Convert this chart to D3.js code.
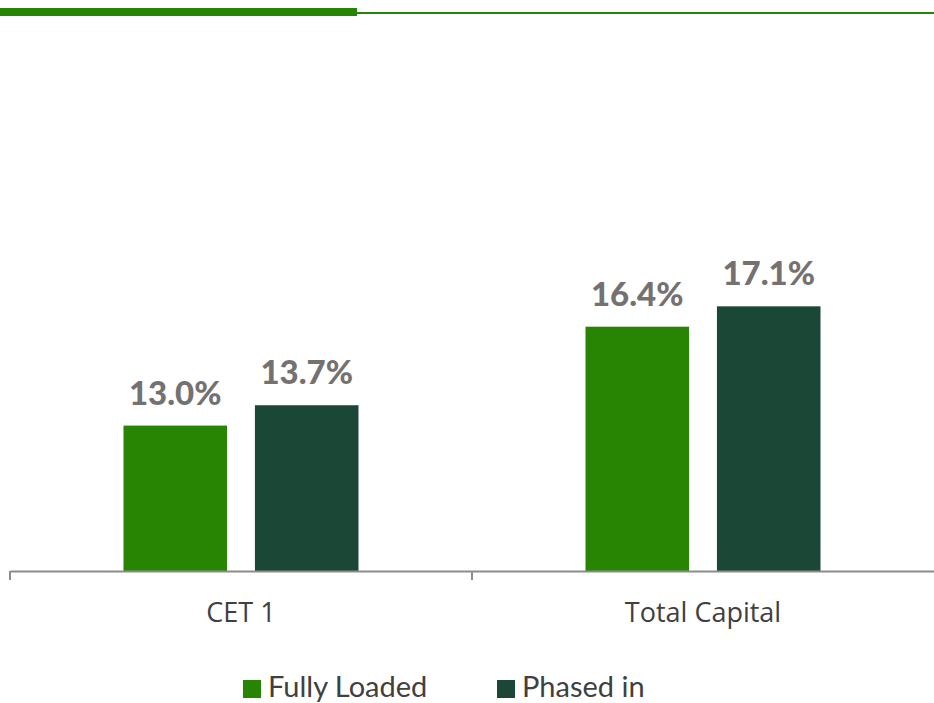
<!doctype html>
<html>
<head>
<meta charset="utf-8">
<title>Capital ratios</title>
<script src="https://cdn.jsdelivr.net/npm/d3@7"></script>
<style>
  body { margin: 0; background: #fff; }
</style>
</head>
<body>
<script>
// data
const categories = ["CET 1", "Total Capital"];
const seriesNames = ["Fully Loaded", "Phased in"];
const fullyLoaded = [13.0, 16.4];
const phasedIn = [13.7, 17.1];
const colors = ["#278503", "#1a4736"];

const w = 934, h = 703;

const svg = d3.select("body").append("svg")
  .attr("width", w)
  .attr("height", h);

// header rule
svg.append("rect").attr("x", 0).attr("y", 8).attr("width", 357).attr("height", 8).attr("fill", "#278503");
svg.append("rect").attr("x", 357).attr("y", 12).attr("width", w - 357).attr("height", 2).attr("fill", "#278503");

const x = d3.scaleBand()
  .domain(categories)
  .range([10, 934])
  .paddingInner(0)
  .paddingOuter(0);

const x1 = d3.scaleBand()
  .domain(seriesNames)
  .range([x.bandwidth() / 2 - 117.5, x.bandwidth() / 2 + 117.5])
  .paddingInner(0.212);

const y = d3.scaleLinear()
  .domain([8, 20])
  .range([571, 222]);

const rows = categories.map((c, i) => ({
  cat: c,
  vals: [fullyLoaded[i], phasedIn[i]]
}));

const groups = svg.selectAll("g.grp")
  .data(rows)
  .enter()
  .append("g")
  .attr("class", "grp")
  .attr("transform", d => `translate(${x(d.cat)},0)`);

groups.selectAll("rect")
  .data(d => d.vals.map((v, j) => ({ name: seriesNames[j], v: v, j: j })))
  .enter()
  .append("rect")
  .attr("x", d => x1(d.name))
  .attr("width", x1.bandwidth())
  .attr("y", d => y(d.v))
  .attr("height", d => y(8) - y(d.v))
  .attr("fill", d => colors[d.j]);

groups.selectAll("text.val")
  .data(d => d.vals.map((v, j) => ({ name: seriesNames[j], v: v })))
  .enter()
  .append("text")
  .attr("class", "val")
  .attr("x", d => x1(d.name) + x1.bandwidth() / 2)
  .attr("y", d => y(d.v) - 21)
  .attr("text-anchor", "middle")
  .attr("font-family", "Lato, 'Open Sans', sans-serif")
  .attr("font-weight", 900)
  .attr("font-size", 33)
  .attr("fill", "#767171")
  .text(d => d.v.toFixed(1) + "%");

// x axis
const axis = svg.append("g")
  .attr("transform", "translate(0,571)")
  .call(d3.axisBottom(x).tickSize(0).tickFormat(""));
axis.select(".domain").attr("stroke", "#8c8c8c").attr("stroke-width", 2);

const tickPos = [10, 10 + x.bandwidth()];
svg.selectAll("line.tk")
  .data(tickPos)
  .enter()
  .append("line")
  .attr("class", "tk")
  .attr("x1", d => d).attr("x2", d => d)
  .attr("y1", 571).attr("y2", 580)
  .attr("stroke", "#8c8c8c")
  .attr("stroke-width", 2);

svg.selectAll("text.cat")
  .data(categories)
  .enter()
  .append("text")
  .attr("class", "cat")
  .attr("x", d => x(d) + x.bandwidth() / 2)
  .attr("y", 622)
  .attr("text-anchor", "middle")
  .attr("font-family", "'Open Sans', sans-serif")
  .attr("font-size", 27)
  .attr("fill", "#404040")
  .text(d => d);

// legend
const legendX = [243, 497];
const leg = svg.selectAll("g.leg")
  .data(seriesNames)
  .enter()
  .append("g")
  .attr("class", "leg")
  .attr("transform", (d, i) => `translate(${legendX[i]},680)`);
leg.append("rect")
  .attr("width", 18).attr("height", 18)
  .attr("fill", (d, i) => colors[i]);
leg.append("text")
  .attr("x", 25)
  .attr("y", 17)
  .attr("font-family", "Lato, 'Open Sans', sans-serif")
  .attr("font-size", 29)
  .attr("fill", "#404040")
  .text(d => d);
</script>
</body>
</html>
